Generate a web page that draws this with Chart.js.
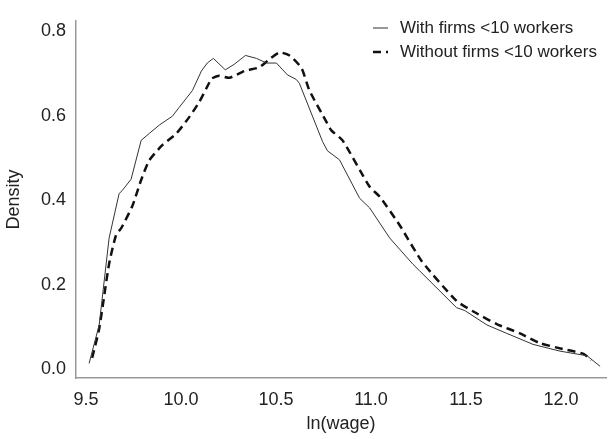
<!DOCTYPE html>
<html>
<head>
<meta charset="utf-8">
<script src="https://cdn.jsdelivr.net/npm/chart.js@4"></script>
<style>
  html, body { margin: 0; padding: 0; background: #fff; }
  #wrap { width: 609px; height: 439px; }
</style>
</head>
<body>
<div id="wrap"><canvas id="density-canvas" width="609" height="439"></canvas></div>
<script>
// kernel density of ln(wage)
const withFirmsX = [9.516, 9.569, 9.621, 9.674, 9.69, 9.737, 9.79, 9.832, 9.885, 9.954, 9.99, 10.06, 10.107, 10.138,
  10.17, 10.233, 10.28, 10.339, 10.397, 10.45, 10.502, 10.56, 10.607, 10.623, 10.745, 10.771, 10.834, 10.94, 10.993,
  11.098, 11.22, 11.256, 11.45, 11.494, 11.61, 11.715, 11.853, 11.995, 12.137, 12.206];
const withFirmsY = [0.014, 0.105, 0.31, 0.416, 0.423, 0.45, 0.542, 0.558, 0.578, 0.599, 0.62, 0.66, 0.706, 0.725,
  0.736, 0.709, 0.722, 0.743, 0.736, 0.725, 0.725, 0.697, 0.686, 0.677, 0.539, 0.517, 0.496, 0.405, 0.382,
  0.311, 0.249, 0.233, 0.146, 0.139, 0.105, 0.085, 0.059, 0.043, 0.032, 0.007];

const withoutFirmsX = [9.532, 9.569, 9.621, 9.658, 9.685, 9.743, 9.79, 9.832, 9.9, 9.975, 10.043, 10.096, 10.149,
  10.16, 10.2, 10.254, 10.333, 10.412, 10.465, 10.518, 10.571, 10.634, 10.676, 10.766, 10.792, 10.85, 10.993,
  11.045, 11.151, 11.267, 11.45, 11.546, 11.662, 11.784, 11.889, 12.01, 12.116, 12.16];
const withoutFirmsY = [0.027, 0.096, 0.249, 0.318, 0.334, 0.386, 0.448, 0.494, 0.53, 0.558, 0.597, 0.633, 0.679,
  0.688, 0.695, 0.69, 0.706, 0.715, 0.734, 0.75, 0.743, 0.713, 0.66, 0.585, 0.565, 0.542, 0.432,
  0.409, 0.341, 0.256, 0.162, 0.135, 0.107, 0.085, 0.062, 0.048, 0.037, 0.022];

const seriesNames = ['With firms <10 workers', 'Without firms <10 workers'];

const toPoints = (xs, ys) => xs.map((x, i) => ({ x: x, y: ys[i] }));

const FONT = 'Liberation Sans, Arial, sans-serif';

// legend drawn inside the plot, top right, like the original
const insideLegend = {
  id: 'insideLegend',
  afterDraw(chart) {
    const ctx = chart.ctx;
    const left = 373, top = 28, rowH = 24, sampleW = 15;
    ctx.save();
    ctx.font = '17px ' + FONT;
    ctx.textBaseline = 'middle';
    chart.data.datasets.forEach((ds, i) => {
      const y = top + i * rowH;
      ctx.strokeStyle = ds.borderColor;
      ctx.lineWidth = ds.borderWidth;
      ctx.setLineDash(ds.borderDash || []);
      ctx.beginPath();
      ctx.moveTo(left, y);
      ctx.lineTo(left + sampleW, y);
      ctx.stroke();
      ctx.setLineDash([]);
      ctx.fillStyle = '#222';
      ctx.fillText(ds.label, left + 27, y);
    });
    ctx.restore();
  }
};

const ctx = document.getElementById('density-canvas');
new Chart(ctx, {
  type: 'line',
  data: {
    datasets: [
      {
        label: seriesNames[0],
        data: toPoints(withFirmsX, withFirmsY),
        borderColor: '#333',
        borderWidth: 1,
        pointRadius: 0,
        tension: 0
      },
      {
        label: seriesNames[1],
        data: toPoints(withoutFirmsX, withoutFirmsY),
        borderColor: '#111',
        borderWidth: 2.5,
        borderDash: [8, 5],
        pointRadius: 0,
        tension: 0.2
      }
    ]
  },
  options: {
    responsive: false,
    animation: false,
    layout: { padding: { left: 0, right: 3, top: 7, bottom: 0 } },
    plugins: {
      legend: { display: false },
      tooltip: { enabled: false }
    },
    scales: {
      x: {
        type: 'linear',
        min: 9.447,
        max: 12.237,
        grid: { display: false, drawTicks: false },
        border: { display: true, color: '#999', width: 1.5 },
        ticks: {
          stepSize: 0.5,
          includeBounds: false,
          padding: 11,
          color: '#222',
          font: { family: FONT, size: 18 },
          maxRotation: 0,
          callback: v => v.toFixed(1)
        },
        title: {
          display: true,
          text: 'ln(wage)',
          color: '#222',
          font: { family: FONT, size: 18 },
          padding: { top: 4 }
        },
        afterFit(scale) { scale.height = 61; }
      },
      y: {
        min: -0.0206,
        max: 0.825,
        grid: { display: false, drawTicks: false },
        border: { display: true, color: '#999', width: 1.5 },
        ticks: {
          stepSize: 0.2,
          includeBounds: false,
          padding: 10,
          color: '#222',
          font: { family: FONT, size: 18 },
          callback: v => v.toFixed(1)
        },
        title: {
          display: true,
          text: 'Density',
          color: '#222',
          font: { family: FONT, size: 18 },
          padding: { top: 3, bottom: 4 }
        },
        afterFit(scale) { scale.width = 76; }
      }
    }
  },
  plugins: [insideLegend]
});
</script>
</body>
</html>
